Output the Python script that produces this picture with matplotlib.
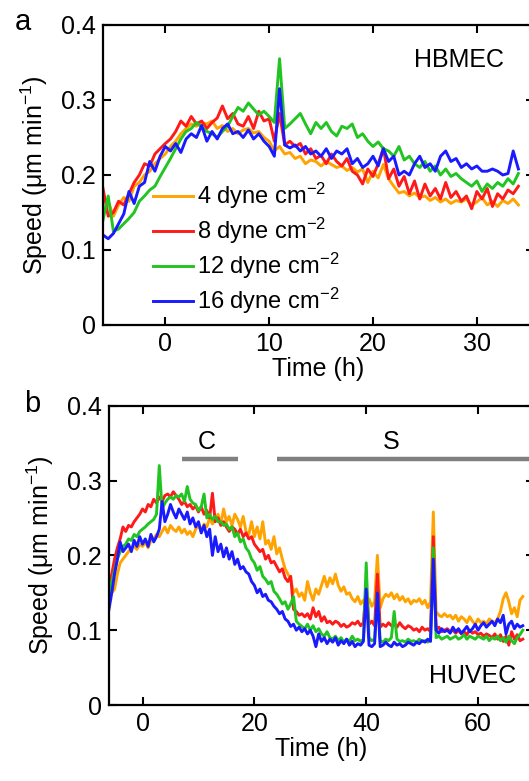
import numpy as np
import matplotlib
matplotlib.use("Agg")
import matplotlib.pyplot as plt

plt.rcParams['font.family'] = ['Liberation Sans', 'DejaVu Sans']
plt.rcParams['mathtext.default'] = 'regular'

# ---- data (speed in um/min, sampled every 0.5 h starting at -6 h) ----
series_labels = ['4 dyne cm$^{-2}$', '8 dyne cm$^{-2}$', '12 dyne cm$^{-2}$', '16 dyne cm$^{-2}$']
series_colors = ['#ffa300', '#ff1a1a', '#22c422', '#1a1aff']
t_start = -6.0
t_step = 0.5

hbmec_4 = [0.150, 0.165, 0.145, 0.160, 0.170, 0.165, 0.185, 0.190, 0.200, 0.205,
           0.215, 0.222, 0.228, 0.238, 0.245, 0.255, 0.262, 0.268, 0.265, 0.270,
           0.268, 0.272, 0.262, 0.266, 0.258, 0.262, 0.255, 0.260, 0.262, 0.256,
           0.258, 0.250, 0.245, 0.232, 0.238, 0.228, 0.230, 0.222, 0.225, 0.215,
           0.220, 0.218, 0.212, 0.218, 0.214, 0.210, 0.212, 0.206, 0.210, 0.204,
           0.208, 0.190, 0.205, 0.196, 0.214, 0.195, 0.185, 0.176, 0.178, 0.172,
           0.176, 0.170, 0.172, 0.166, 0.170, 0.164, 0.168, 0.162, 0.166, 0.164,
           0.168, 0.160, 0.164, 0.170, 0.160, 0.165, 0.158, 0.166, 0.162, 0.168,
           0.160]
hbmec_8 = [0.182, 0.145, 0.150, 0.165, 0.160, 0.175, 0.190, 0.200, 0.215, 0.212,
           0.228, 0.235, 0.242, 0.248, 0.258, 0.272, 0.265, 0.278, 0.268, 0.272,
           0.262, 0.270, 0.276, 0.292, 0.275, 0.282, 0.268, 0.265, 0.278, 0.262,
           0.285, 0.272, 0.275, 0.245, 0.282, 0.240, 0.245, 0.238, 0.242, 0.228,
           0.235, 0.222, 0.226, 0.215, 0.228, 0.218, 0.212, 0.222, 0.205, 0.200,
           0.188, 0.208, 0.198, 0.215, 0.236, 0.195, 0.208, 0.185, 0.198, 0.175,
           0.192, 0.168, 0.188, 0.172, 0.182, 0.168, 0.190, 0.170, 0.178, 0.165,
           0.172, 0.155, 0.178, 0.168, 0.182, 0.158, 0.175, 0.168, 0.180, 0.175,
           0.185]
hbmec_12 = [0.140, 0.172, 0.125, 0.128, 0.135, 0.142, 0.150, 0.165, 0.172, 0.180,
            0.185, 0.198, 0.210, 0.222, 0.235, 0.248, 0.258, 0.262, 0.270, 0.264,
            0.258, 0.255, 0.250, 0.258, 0.265, 0.278, 0.290, 0.285, 0.296, 0.288,
            0.280, 0.285, 0.278, 0.270, 0.355, 0.262, 0.268, 0.275, 0.282, 0.268,
            0.255, 0.270, 0.262, 0.270, 0.258, 0.252, 0.265, 0.262, 0.268, 0.250,
            0.255, 0.245, 0.238, 0.244, 0.235, 0.232, 0.225, 0.238, 0.220, 0.225,
            0.215, 0.210, 0.218, 0.205, 0.212, 0.200, 0.208, 0.198, 0.202, 0.195,
            0.190, 0.185, 0.192, 0.178, 0.188, 0.182, 0.190, 0.185, 0.195, 0.188,
            0.202]
hbmec_16 = [0.120, 0.115, 0.122, 0.135, 0.148, 0.178, 0.162, 0.185, 0.190, 0.218,
            0.205, 0.225, 0.238, 0.232, 0.242, 0.230, 0.248, 0.255, 0.250, 0.266,
            0.245, 0.258, 0.248, 0.262, 0.268, 0.255, 0.258, 0.250, 0.260, 0.248,
            0.255, 0.245, 0.238, 0.225, 0.315, 0.240, 0.236, 0.240, 0.232, 0.238,
            0.228, 0.232, 0.225, 0.235, 0.222, 0.232, 0.228, 0.235, 0.215, 0.222,
            0.210, 0.215, 0.225, 0.212, 0.235, 0.218, 0.225, 0.200, 0.205, 0.200,
            0.215, 0.225, 0.210, 0.215, 0.205, 0.225, 0.232, 0.218, 0.222, 0.210,
            0.215, 0.208, 0.212, 0.205, 0.205, 0.208, 0.205, 0.200, 0.202, 0.232,
            0.208]

huvec_4 = [0.165, 0.150, 0.155, 0.175, 0.190, 0.195, 0.200, 0.205, 0.210, 0.212,
           0.208, 0.215, 0.212, 0.218, 0.210, 0.220, 0.222, 0.228, 0.225, 0.232,
           0.238, 0.230, 0.240, 0.235, 0.232, 0.238, 0.230, 0.235, 0.228, 0.232,
           0.225, 0.235, 0.240, 0.232, 0.242, 0.238, 0.250, 0.242, 0.248, 0.255,
           0.242, 0.262, 0.245, 0.252, 0.240, 0.255, 0.248, 0.238, 0.252, 0.232,
           0.228, 0.245, 0.225, 0.238, 0.222, 0.245, 0.215, 0.220, 0.208, 0.225,
           0.202, 0.210, 0.195, 0.182, 0.175, 0.168, 0.150, 0.155, 0.145, 0.150,
           0.140, 0.165, 0.150, 0.140, 0.155, 0.148, 0.160, 0.172, 0.158, 0.170,
           0.162, 0.175, 0.160, 0.152, 0.158, 0.148, 0.150, 0.142, 0.138, 0.145,
           0.135, 0.140, 0.128, 0.142, 0.132, 0.138, 0.200, 0.130, 0.142, 0.148,
           0.145, 0.150, 0.142, 0.148, 0.140, 0.145, 0.138, 0.142, 0.135, 0.140,
           0.138, 0.142, 0.135, 0.140, 0.130, 0.138, 0.258, 0.125, 0.120, 0.118,
           0.122, 0.118, 0.120, 0.115, 0.120, 0.112, 0.118, 0.115, 0.110, 0.118,
           0.112, 0.108, 0.115, 0.110, 0.112, 0.108, 0.115, 0.112, 0.110, 0.115,
           0.125, 0.142, 0.150, 0.138, 0.122, 0.130, 0.118, 0.140, 0.145]
huvec_8 = [0.160, 0.175, 0.195, 0.210, 0.222, 0.238, 0.232, 0.240, 0.238, 0.245,
           0.250, 0.255, 0.262, 0.258, 0.268, 0.265, 0.275, 0.270, 0.278, 0.272,
           0.280, 0.282, 0.278, 0.285, 0.280, 0.275, 0.268, 0.272, 0.265, 0.268,
           0.262, 0.266, 0.258, 0.265, 0.255, 0.260, 0.250, 0.283, 0.245, 0.250,
           0.240, 0.245, 0.238, 0.232, 0.238, 0.235, 0.228, 0.235, 0.225, 0.230,
           0.222, 0.225, 0.215, 0.210, 0.205, 0.208, 0.195, 0.200, 0.190, 0.192,
           0.185, 0.178, 0.182, 0.170, 0.165, 0.172, 0.128, 0.125, 0.120, 0.122,
           0.118, 0.122, 0.115, 0.130, 0.118, 0.125, 0.112, 0.118, 0.110, 0.112,
           0.108, 0.112, 0.110, 0.105, 0.108, 0.104, 0.106, 0.110, 0.108, 0.112,
           0.106, 0.110, 0.160, 0.108, 0.112, 0.106, 0.175, 0.104, 0.108, 0.105,
           0.110, 0.106, 0.108, 0.104, 0.110, 0.105, 0.102, 0.106, 0.104, 0.100,
           0.102, 0.098, 0.104, 0.100, 0.102, 0.098, 0.225, 0.100, 0.104, 0.098,
           0.100, 0.102, 0.098, 0.100, 0.096, 0.100, 0.095, 0.098, 0.094, 0.100,
           0.096, 0.098, 0.094, 0.096, 0.092, 0.095, 0.093, 0.090, 0.095, 0.088,
           0.094, 0.085, 0.092, 0.080, 0.098, 0.088, 0.094, 0.086, 0.088]
huvec_12 = [0.145, 0.165, 0.180, 0.195, 0.205, 0.212, 0.215, 0.222, 0.220, 0.228,
            0.225, 0.232, 0.235, 0.238, 0.242, 0.245, 0.248, 0.255, 0.320, 0.262,
            0.270, 0.275, 0.278, 0.275, 0.280, 0.278, 0.282, 0.272, 0.292, 0.275,
            0.270, 0.268, 0.260, 0.265, 0.282, 0.250, 0.255, 0.248, 0.252, 0.245,
            0.245, 0.240, 0.242, 0.235, 0.238, 0.225, 0.230, 0.218, 0.222, 0.210,
            0.205, 0.195, 0.190, 0.180, 0.185, 0.172, 0.168, 0.162, 0.165, 0.152,
            0.148, 0.142, 0.135, 0.138, 0.128, 0.135, 0.145, 0.112, 0.108, 0.105,
            0.102, 0.108, 0.100, 0.106, 0.098, 0.102, 0.095, 0.092, 0.098, 0.090,
            0.088, 0.092, 0.086, 0.090, 0.084, 0.088, 0.085, 0.092, 0.086, 0.088,
            0.085, 0.088, 0.190, 0.090, 0.086, 0.088, 0.150, 0.086, 0.084, 0.088,
            0.086, 0.090, 0.125, 0.088, 0.085, 0.086, 0.084, 0.088, 0.085, 0.086,
            0.084, 0.088, 0.085, 0.086, 0.084, 0.088, 0.210, 0.090, 0.092, 0.088,
            0.090, 0.092, 0.088, 0.090, 0.092, 0.088, 0.090, 0.094, 0.088, 0.092,
            0.090, 0.088, 0.092, 0.090, 0.088, 0.092, 0.086, 0.090, 0.088, 0.092,
            0.086, 0.090, 0.084, 0.092, 0.086, 0.082, 0.090, 0.094, 0.100]
huvec_16 = [0.128, 0.150, 0.175, 0.195, 0.218, 0.205, 0.210, 0.215, 0.205, 0.220,
            0.212, 0.225, 0.215, 0.222, 0.212, 0.228, 0.218, 0.225, 0.235, 0.272,
            0.245, 0.255, 0.268, 0.258, 0.250, 0.262, 0.255, 0.248, 0.258, 0.242,
            0.250, 0.238, 0.245, 0.230, 0.240, 0.225, 0.235, 0.200, 0.225, 0.205,
            0.215, 0.198, 0.210, 0.195, 0.205, 0.188, 0.195, 0.182, 0.185, 0.178,
            0.175, 0.165, 0.160, 0.150, 0.155, 0.145, 0.148, 0.140, 0.138, 0.132,
            0.128, 0.122, 0.125, 0.115, 0.112, 0.105, 0.108, 0.100, 0.104, 0.098,
            0.102, 0.095, 0.100, 0.092, 0.078, 0.095, 0.085, 0.090, 0.082, 0.088,
            0.084, 0.090, 0.080, 0.086, 0.082, 0.088, 0.080, 0.085, 0.078, 0.082,
            0.080, 0.085, 0.155, 0.080, 0.078, 0.082, 0.150, 0.078, 0.080, 0.084,
            0.080, 0.078, 0.084, 0.080, 0.082, 0.078, 0.080, 0.084, 0.082, 0.080,
            0.084, 0.082, 0.086, 0.084, 0.088, 0.085, 0.195, 0.100, 0.096, 0.102,
            0.098, 0.100, 0.096, 0.104, 0.098, 0.102, 0.096, 0.100, 0.105, 0.098,
            0.102, 0.108, 0.100, 0.106, 0.110, 0.104, 0.108, 0.112, 0.106, 0.115,
            0.110, 0.120, 0.095, 0.108, 0.112, 0.102, 0.108, 0.104, 0.106]

yticks = [0, 0.1, 0.2, 0.3, 0.4]
yticklabels = ['0', '0.1', '0.2', '0.3', '0.4']
xticks_a = [0, 10, 20, 30]
xticks_b = [0, 20, 40, 60]
# stage bars in panel b
stage_labels = ['C', 'S']
stage_start = [7, 24]
stage_end = [17, 75]
stage_label_x = [11.4, 44.5]

FS = 18

fig = plt.figure(figsize=(5.29, 7.81), dpi=100)
ax_a = fig.add_axes([0.1947, 0.5839, 0.8147, 0.3841])
ax_b = fig.add_axes([0.2060, 0.0973, 0.8034, 0.3832])


def style_axis(ax, xlim, xticks):
    ax.set_xlim(*xlim)
    ax.set_ylim(0, 0.4)
    ax.set_xticks(xticks)
    ax.set_yticks(yticks)
    ax.set_yticklabels(yticklabels)
    ax.tick_params(direction='in', top=True, right=True, length=6, width=1.5,
                   labelsize=FS, pad=5)
    for sp in ax.spines.values():
        sp.set_linewidth(1.6)
    ax.set_xlabel('Time (h)', fontsize=FS, labelpad=1)
    ax.set_ylabel('Speed (μm min$^{-1}$)', fontsize=FS, labelpad=8)


def draw_series(ax, data):
    for vals, col, lab in zip(data, series_colors, series_labels):
        t = t_start + t_step * np.arange(len(vals))
        ax.plot(t, vals, color=col, lw=2.1, label=lab, solid_joinstyle='round')


draw_series(ax_a, [hbmec_4, hbmec_8, hbmec_12, hbmec_16])
style_axis(ax_a, (-6, 35.5), xticks_a)
ax_a.text(23.9, 0.353, 'HBMEC', fontsize=FS, va='center', ha='left')
ax_a.legend(loc='upper left', bbox_to_anchor=(0.115, 0.48), frameon=False,
            fontsize=17, handlelength=1.7, handletextpad=0.2,
            labelspacing=0.2, borderaxespad=0, borderpad=0)

draw_series(ax_b, [huvec_4, huvec_8, huvec_12, huvec_16])
style_axis(ax_b, (-6, 70), xticks_b)
for lab, t0, t1, tx in zip(stage_labels, stage_start, stage_end, stage_label_x):
    ax_b.plot([t0, t1], [0.329, 0.329], color='#808080', lw=3.2,
              solid_capstyle='butt')
    ax_b.text(tx, 0.352, lab, fontsize=FS, ha='center', va='center')
ax_b.text(51.2, 0.039, 'HUVEC', fontsize=FS, va='center', ha='left')

fig.text(0.028, 0.972, 'a', fontsize=21, va='center', ha='left')
fig.text(0.045, 0.483, 'b', fontsize=21, va='center', ha='left')

fig.savefig('out.png', dpi=100)
